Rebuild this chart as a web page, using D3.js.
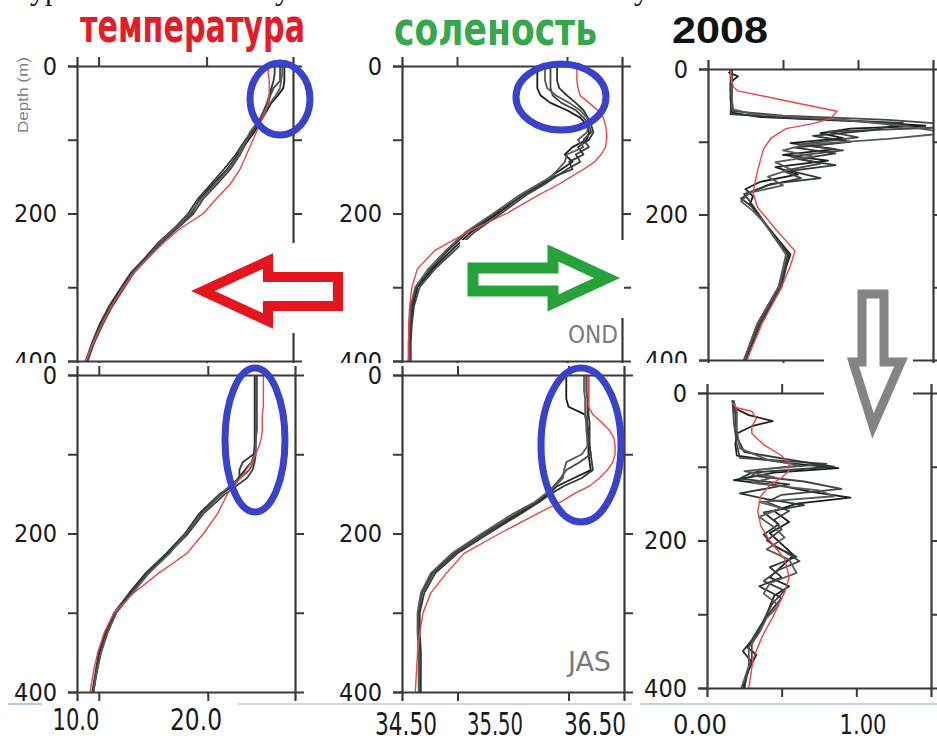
<!DOCTYPE html>
<html>
<head>
<meta charset="utf-8">
<script src="https://cdn.jsdelivr.net/npm/d3@7"></script>
<style>
  body { margin: 0; background: #fff; }
  svg { display: block; }
</style>
</head>
<body>
<div id="chart"></div>
<script>
// ---------------- data : [depth (m), value] or depth grid + values ----------------

// temperature, OND (upper left)
const tempOndDepth = [0,10,20,30,40,50,60,70,80,90,100,120,140,160,180,200,220,240,260,280,300,325,350,375,400]
const tempOndRed = [25.7,25.7,25.8,25.8,25.8,25.7,25.5,25.2,24.9,24.6,24.3,23.7,23.1,22.2,20.9,19.7,17.6,16.0,14.6,13.3,12.3,11.2,10.3,9.5,8.8]
const tempOndBlack = [
  [27.2,27.2,27.2,27.1,26.6,26.0,25.6,25.2,24.8,24.4,23.9,22.9,21.9,20.6,19.4,18.6,17.2,15.7,14.4,13.2,12.2,11.1,10.2,9.5,8.9],
  [26.8,26.8,26.8,26.2,25.9,25.7,25.5,25.1,24.7,24.2,23.8,23.1,22.2,21.0,19.7,18.8,17.3,15.8,14.6,13.3,12.4,11.3,10.4,9.6,9.0],
  [26.3,26.3,26.2,26.0,25.8,25.6,25.3,25.0,24.6,24.1,23.6,22.7,21.6,20.4,19.2,18.3,17.0,15.5,14.3,13.0,12.1,11.0,10.1,9.4,8.8],
  [27.0,27.0,26.9,26.8,26.4,25.9,25.4,25.0,24.5,24.0,23.7,23.0,22.0,20.8,19.5,18.5,17.1,15.6,14.5,13.2,12.3,11.2,10.3,9.5,8.9]
]

// temperature, JAS (lower left)
const tempJasDepth = [0,10,20,30,40,50,60,70,80,90,100,110,120,130,140,150,175,200,225,250,275,300,325,350,375,400]
const tempJasRed = [25.1,25.1,25.1,25.1,25.1,25.0,25.0,25.0,24.9,24.7,24.4,24.0,23.5,23.0,22.4,21.8,20.9,19.6,18.1,15.5,13.2,11.4,10.5,9.9,9.5,9.2]
const tempJasBlack = [
  [24.3,24.3,24.3,24.3,24.3,24.3,24.3,24.3,24.3,24.3,24.3,24.0,23.4,22.8,22.2,21.3,19.4,18.1,16.3,14.4,12.9,11.5,10.7,10.1,9.8,9.5],
  [24.4,24.4,24.4,24.4,24.4,24.4,24.4,24.4,24.4,24.4,24.4,24.3,24.1,23.6,22.6,21.6,19.6,18.2,16.4,14.5,13.0,11.6,10.8,10.2,9.8,9.5],
  [24.5,24.5,24.5,24.5,24.5,24.5,24.5,24.5,24.4,24.3,24.2,23.2,22.9,22.9,22.3,21.1,19.2,17.9,16.2,14.3,12.8,11.4,10.6,10.0,9.7,9.4],
  [24.4,24.4,24.4,24.4,24.4,24.4,24.4,24.4,24.4,24.4,24.3,24.2,23.8,23.0,22.0,21.2,19.5,18.0,16.5,14.6,13.1,11.6,10.8,10.2,9.8,9.5]
]

// salinity, OND (upper middle)
const salDepth = [0,10,20,30,40,50,60,70,80,90,100,110,120,130,140,150,160,175,200,225,250,275,300,325,350,375,400]
const salOndRed = [36.09,36.09,36.09,36.10,36.12,36.20,36.28,36.33,36.35,36.36,36.36,36.35,36.31,36.25,36.15,36.04,35.93,35.74,35.45,35.10,34.80,34.64,34.59,34.57,34.56,34.56,34.56]
const salOndBlack = [
  [35.73,35.73,35.73,35.73,35.76,35.85,36.00,36.12,36.18,36.20,36.18,36.05,35.98,36.05,35.95,35.85,35.77,35.60,35.37,35.13,34.95,34.78,34.64,34.60,34.58,34.57,34.57],
  [35.85,35.85,35.85,35.85,35.87,35.95,36.08,36.15,36.20,36.22,36.15,36.20,36.08,36.12,36.00,35.90,35.80,35.63,35.40,35.16,34.98,34.80,34.66,34.61,34.59,34.58,34.58],
  [35.91,35.91,35.91,35.93,36.00,36.08,36.15,36.19,36.22,36.24,36.20,36.10,36.15,36.02,36.05,35.88,35.78,35.60,35.35,35.10,34.92,34.76,34.63,34.59,34.58,34.57,34.56],
  [35.80,35.80,35.80,35.82,35.90,36.02,36.12,36.18,36.20,36.18,36.10,36.15,36.00,35.98,35.92,35.86,35.74,35.57,35.33,35.08,34.90,34.74,34.62,34.58,34.57,34.56,34.56]
]

// salinity, JAS (lower middle)
const salJasRed = [36.18,36.18,36.18,36.18,36.18,36.22,36.30,36.37,36.41,36.42,36.42,36.40,36.35,36.28,36.19,36.05,35.93,35.72,35.38,35.06,34.90,34.76,34.69,34.66,34.64,34.63,34.62]
const salJasBlack = [
  [35.98,35.98,35.98,35.98,36.00,36.15,36.16,36.17,36.17,36.18,36.18,36.19,36.20,36.05,35.90,35.82,35.73,35.55,35.25,34.97,34.77,34.68,34.65,34.65,34.66,34.66,34.66],
  [36.16,36.16,36.16,36.17,36.17,36.17,36.17,36.18,36.18,36.19,36.20,36.10,35.98,35.93,35.87,35.80,35.71,35.53,35.24,34.98,34.78,34.68,34.65,34.65,34.66,34.66,34.66],
  [36.18,36.18,36.18,36.18,36.18,36.18,36.19,36.19,36.19,36.19,36.20,36.21,36.22,36.12,35.96,35.84,35.74,35.57,35.28,35.00,34.80,34.70,34.66,34.66,34.67,34.67,34.67],
  [36.14,36.14,36.14,36.15,36.15,36.15,36.16,36.16,36.17,36.17,36.12,35.98,35.96,35.95,35.88,35.79,35.70,35.50,35.22,34.95,34.76,34.67,34.64,34.64,34.65,34.65,34.65]
]

// 2008, upper right
const y2008TopRed = [[0,0.15],[10,0.15],[25,0.17],[30,0.2],[45,0.55],[58,0.86],[68,0.82],[75,0.7],[82,0.52],[95,0.42],[110,0.37],[140,0.33],[170,0.3],[190,0.33],[220,0.45],[250,0.58],[270,0.55],[300,0.49],[350,0.36],[400,0.26]]
const y2008TopBlack = [
  [[0,0.17],[5,0.14],[10,0.2],[15,0.17],[20,0.15],[40,0.15],[60,0.16],[66,0.35],[72,1.0],[78,1.45],[82,0.95],[88,0.75],[95,0.9],[102,0.55],[110,0.85],[118,0.5],[126,0.8],[135,0.45],[145,0.6],[155,0.35],[165,0.25],[175,0.3],[185,0.28],[200,0.33],[230,0.45],[255,0.55],[300,0.47],[350,0.33],[400,0.24]],
  [[0,0.15],[30,0.15],[58,0.17],[64,0.5],[70,1.2],[76,1.6],[80,1.6],[86,0.8],[94,1.0],[104,0.6],[112,0.9],[120,0.55],[130,0.75],[140,0.5],[150,0.62],[160,0.4],[172,0.24],[182,0.28],[200,0.34],[255,0.53],[300,0.48],[350,0.34],[400,0.25]],
  [[0,0.16],[30,0.16],[62,0.15],[68,0.6],[74,1.3],[84,1.1],[92,0.7],[100,0.95],[108,0.58],[116,0.85],[124,0.6],[132,0.85],[140,0.55],[150,0.75],[158,0.42],[168,0.3],[178,0.22],[190,0.3],[205,0.35],[255,0.54],[300,0.49],[350,0.35],[400,0.25]],
  [[0,0.15],[20,0.16],[55,0.16],[62,0.3],[70,0.9],[78,1.3],[88,1.6],[96,1.2],[104,0.65],[112,0.5],[120,0.7],[128,0.45],[138,0.55],[148,0.4],[160,0.5],[170,0.28],[182,0.22],[195,0.3],[210,0.37],[255,0.52],[300,0.47],[350,0.33],[400,0.24]]
]

// 2008, lower right
const y2008BotRed = [[14,0.17],[20,0.2],[25,0.3],[35,0.33],[45,0.3],[55,0.3],[70,0.38],[85,0.5],[95,0.55],[105,0.55],[115,0.5],[125,0.42],[140,0.36],[160,0.34],[180,0.36],[200,0.42],[225,0.52],[250,0.55],[270,0.52],[300,0.45],[330,0.37],[360,0.31],[400,0.28]]
const y2008BotBlack = [
  [[10,0.17],[20,0.18],[30,0.28],[38,0.44],[45,0.3],[55,0.2],[70,0.19],[85,0.2],[95,0.55],[102,0.88],[108,0.45],[118,0.18],[126,0.5],[134,0.7],[142,0.96],[150,0.6],[160,0.45],[175,0.55],[190,0.42],[205,0.5],[220,0.58],[235,0.5],[250,0.42],[262,0.55],[275,0.45],[290,0.42],[310,0.38],[330,0.33],[345,0.27],[355,0.33],[375,0.28],[400,0.24]],
  [[10,0.17],[40,0.18],[70,0.2],[88,0.22],[96,0.8],[104,0.35],[112,0.3],[120,0.65],[130,0.9],[138,0.5],[148,0.4],[160,0.55],[172,0.45],[185,0.5],[200,0.4],[215,0.52],[228,0.62],[240,0.48],[255,0.38],[268,0.52],[285,0.44],[300,0.4],[320,0.35],[340,0.3],[360,0.3],[380,0.27],[400,0.25]],
  [[10,0.18],[30,0.19],[60,0.2],[80,0.25],[92,0.6],[100,0.85],[108,0.3],[116,0.22],[124,0.55],[136,0.22],[144,0.4],[152,0.65],[162,0.38],[178,0.48],[192,0.38],[208,0.45],[222,0.6],[236,0.42],[250,0.5],[262,0.35],[278,0.5],[295,0.43],[315,0.36],[335,0.3],[350,0.24],[365,0.3],[385,0.26],[400,0.25]],
  [[12,0.18],[25,0.2],[50,0.2],[75,0.22],[90,0.4],[98,0.62],[106,0.25],[114,0.45],[122,0.3],[132,0.75],[140,0.85],[148,0.35],[156,0.5],[168,0.35],[182,0.45],[196,0.52],[212,0.4],[226,0.55],[244,0.6],[258,0.42],[272,0.38],[288,0.48],[305,0.4],[325,0.35],[345,0.28],[370,0.28],[400,0.23]]
]

const depthTicks = [0, 100, 200, 300, 400]
const tempTicks = [10, 20]
const salTicks = [35, 36]
const n2Ticks = [0.5, 1.0]

const titles = ["температура", "соленость", "2008"]
const tempLabels = ["10.0", "20.0"]
const salLabels = ["34.50", "35.50", "36.50"]
const n2Labels = ["0.00", "1.00"]

// -----------------------------------------------------------------

const zip = (depths, vals) => depths.map((d, i) => [d, vals[i]])
const blackColors = ["#1c1c1c", "#454545", "#2c3b34", "#5a5a5a"]
const redColor = "#e8464a"
const axisColor = "#3a3a3a"
const narrow = "'Liberation Sans Narrow','DejaVu Sans Condensed',sans-serif"

const svg = d3.select("#chart")
  .append("svg")
    .attr("width", 937)
    .attr("height", 740)
    .style("background", "#fff")

function drawPanel(p) {
  const x = d3.scaleLinear().domain(p.xDomain).range([p.x0, p.x1])
  const y = d3.scaleLinear().domain([0, 400]).range([p.y0, p.y1])

  const g = svg.append("g")

  svg.append("clipPath").attr("id", "clip-" + p.id)
    .append("rect")
      .attr("x", p.x0).attr("y", p.y0)
      .attr("width", p.x1 - p.x0).attr("height", p.y1 - p.y0)

  const line = d3.line().x(d => x(d[1])).y(d => y(d[0]))
  const lines = g.append("g").attr("clip-path", "url(#clip-" + p.id + ")")

  lines.selectAll("path.black")
    .data(p.black)
    .enter().append("path")
      .attr("class", "black")
      .attr("d", line)
      .attr("fill", "none")
      .attr("stroke", (d, i) => blackColors[i % blackColors.length])
      .attr("stroke-width", 1.8)
      .attr("stroke-linejoin", "round")

  lines.append("path")
    .datum(p.red)
    .attr("d", line)
    .attr("fill", "none")
    .attr("stroke", redColor)
    .attr("stroke-width", 1.4)

  const style = sel => {
    sel.selectAll("path.domain").attr("stroke", axisColor).attr("stroke-width", 2.2)
    sel.selectAll(".tick line").attr("stroke", axisColor).attr("stroke-width", 2)
    sel.selectAll("text")
      .attr("fill", "#1a1a1a")
      .style("font-family", narrow)
      .style("font-size", "25px")
  }

  g.append("g")
    .attr("transform", "translate(0," + p.y0 + ")")
    .call(d3.axisTop(x).tickValues(p.ticks).tickSize(9).tickSizeOuter(9).tickFormat(""))
    .call(style)
  g.append("g")
    .attr("transform", "translate(0," + p.y1 + ")")
    .call(d3.axisBottom(x).tickValues(p.ticks).tickSize(9).tickSizeOuter(9).tickFormat(""))
    .call(style)
  g.append("g")
    .attr("transform", "translate(" + p.x0 + ",0)")
    .call(d3.axisLeft(y).tickValues(depthTicks).tickSize(9).tickSizeOuter(9).tickPadding(11)
      .tickFormat(d => d % 200 === 0 ? d : ""))
    .call(style)
  g.append("g")
    .attr("transform", "translate(" + p.x1 + ",0)")
    .call(d3.axisRight(y).tickValues(depthTicks.slice(1, 4)).tickSize(9).tickSizeOuter(9).tickFormat(""))
    .call(style)

  return { x, y }
}

// top row
drawPanel({ id: "t1", xDomain: [8, 28], x0: 77, x1: 293, y0: 66, y1: 361, ticks: tempTicks,
  red: zip(tempOndDepth, tempOndRed), black: tempOndBlack.map(v => zip(tempOndDepth, v)) })
drawPanel({ id: "s1", xDomain: [34.5, 36.5], x0: 402, x1: 622, y0: 66, y1: 361, ticks: salTicks,
  red: zip(salDepth, salOndRed), black: salOndBlack.map(v => zip(salDepth, v)) })
drawPanel({ id: "n1", xDomain: [0, 1.5], x0: 708, x1: 933, y0: 69, y1: 360, ticks: n2Ticks,
  red: y2008TopRed, black: y2008TopBlack })

// the lower pictures sit on top of the upper ones
svg.append("rect").attr("x", 0).attr("y", 363).attr("width", 937).attr("height", 377).attr("fill", "#fff")

drawPanel({ id: "t2", xDomain: [8, 28], x0: 77, x1: 295, y0: 375, y1: 692, ticks: tempTicks,
  red: zip(tempJasDepth, tempJasRed), black: tempJasBlack.map(v => zip(tempJasDepth, v)) })
drawPanel({ id: "s2", xDomain: [34.5, 36.5], x0: 402, x1: 624, y0: 375, y1: 692, ticks: salTicks,
  red: zip(salDepth, salJasRed), black: salJasBlack.map(v => zip(salDepth, v)) })
drawPanel({ id: "n2", xDomain: [0, 1.5], x0: 707, x1: 931, y0: 393, y1: 688, ticks: n2Ticks,
  red: y2008BotRed, black: y2008BotBlack })

// axis value labels typed under the lower pictures
const bottomLabels = [
  { t: tempLabels[0], x: 76, y: 730, w: 47, s: 30 },
  { t: tempLabels[1], x: 196, y: 730, w: 52, s: 30 },
  { t: salLabels[0], x: 406, y: 735, w: 62, s: 32 },
  { t: salLabels[1], x: 495, y: 735, w: 56, s: 32 },
  { t: salLabels[2], x: 595, y: 735, w: 62, s: 32 },
  { t: n2Labels[0], x: 700, y: 734, w: 54, s: 26 },
  { t: n2Labels[1], x: 863, y: 734, w: 47, s: 26 }
]
svg.append("g").selectAll("text")
  .data(bottomLabels)
  .enter().append("text")
    .attr("x", d => d.x - d.w / 2)
    .attr("y", d => d.y)
    .attr("textLength", d => d.w)
    .attr("lengthAdjust", "spacingAndGlyphs")
    .style("font-family", narrow)
    .style("font-size", d => d.s + "px")
    .attr("fill", "#1a1a1a")
    .text(d => d.t)

// faint rule under the pictures
const rules = [[8, 42, "#b9c9e0"], [238, 632, "#d4d8dc"], [640, 937, "#c3d2e6"]]
svg.append("g").selectAll("line")
  .data(rules)
  .enter().append("line")
    .attr("x1", d => d[0]).attr("x2", d => d[1])
    .attr("y1", 704).attr("y2", 704)
    .attr("stroke", d => d[2])
    .attr("stroke-width", 2)

// "Depth (m)"
svg.append("text")
  .attr("transform", "translate(28,95) rotate(-90)")
  .attr("text-anchor", "middle")
  .attr("textLength", 76)
  .attr("lengthAdjust", "spacingAndGlyphs")
  .style("font-family", "'Liberation Sans',sans-serif")
  .style("font-size", "14px")
  .attr("fill", "#808080")
  .text("Depth (m)")

// season marks
svg.append("text").attr("x", 568).attr("y", 343).attr("textLength", 50).attr("lengthAdjust", "spacingAndGlyphs")
  .style("font-family", narrow).style("font-size", "24px").attr("fill", "#7a7a7a").text("OND")
svg.append("text").attr("x", 568).attr("y", 671).attr("textLength", 43).attr("lengthAdjust", "spacingAndGlyphs")
  .style("font-family", narrow).style("font-size", "27px").attr("fill", "#7a7a7a").text("JAS")

// arrows (white box behind each, it hides the axis pieces underneath)
const arrows = svg.append("g")
arrows.append("rect").attr("x", 190).attr("y", 243).attr("width", 160).attr("height", 90).attr("fill", "#fff")
arrows.append("rect").attr("x", 460).attr("y", 240).attr("width", 164).attr("height", 78).attr("fill", "#fff")
arrows.append("rect").attr("x", 824).attr("y", 282).attr("width", 89).attr("height", 158).attr("fill", "#fff")

const arrowPath = pts => "M" + pts.map(p => p.join(",")).join("L") + "Z"
arrows.append("path")
  .attr("d", arrowPath([[203,291],[268,261],[268,277],[338,277],[338,306],[268,306],[268,321]]))
  .attr("fill", "#fff").attr("stroke", "#e6141d").attr("stroke-width", 10).attr("stroke-linejoin", "miter")
arrows.append("path")
  .attr("d", arrowPath([[473,268],[553,268],[553,253],[607,278],[553,303],[553,291],[473,291]]))
  .attr("fill", "#fff").attr("stroke", "#27a13a").attr("stroke-width", 11).attr("stroke-linejoin", "miter")
arrows.append("path")
  .attr("d", arrowPath([[862,294],[884,294],[884,362],[901,362],[873,426],[853,362],[862,362]]))
  .attr("fill", "#fff").attr("stroke", "#848484").attr("stroke-width", 9).attr("stroke-linejoin", "miter")

// blue marks on the mixed layer
const rings = [[280, 99, 30, 36], [561, 97, 45, 33], [255, 440, 30, 72], [581, 445, 40, 77]]
svg.append("g").selectAll("ellipse")
  .data(rings)
  .enter().append("ellipse")
    .attr("cx", d => d[0]).attr("cy", d => d[1])
    .attr("rx", d => d[2]).attr("ry", d => d[3])
    .attr("fill", "none")
    .attr("stroke", "#3a42c9")
    .attr("stroke-width", 7)

// headings
svg.append("text").attr("x", 80).attr("y", 42).attr("textLength", 225).attr("lengthAdjust", "spacingAndGlyphs")
  .style("font-family", narrow).style("font-weight", "bold").style("font-size", "46px")
  .attr("fill", "#e21d2a").text(titles[0])
svg.append("text").attr("x", 394).attr("y", 45).attr("textLength", 203).attr("lengthAdjust", "spacingAndGlyphs")
  .style("font-family", narrow).style("font-weight", "bold").style("font-size", "47px")
  .attr("fill", "#34a84a").text(titles[1])
svg.append("text").attr("x", 672).attr("y", 43).attr("textLength", 96).attr("lengthAdjust", "spacingAndGlyphs")
  .style("font-family", "'Liberation Sans',sans-serif").style("font-weight", "bold").style("font-size", "36px")
  .attr("fill", "#111").text(titles[2])

// tails of the line of text above the figure
const tails = [[30, "ур"], [275, "у"], [634, "у"]]
svg.append("g").selectAll("text")
  .data(tails)
  .enter().append("text")
    .attr("x", d => d[0]).attr("y", 0)
    .style("font-family", "'Liberation Serif',serif")
    .style("font-size", "30px")
    .attr("fill", "#111")
    .text(d => d[1])
</script>
</body>
</html>
